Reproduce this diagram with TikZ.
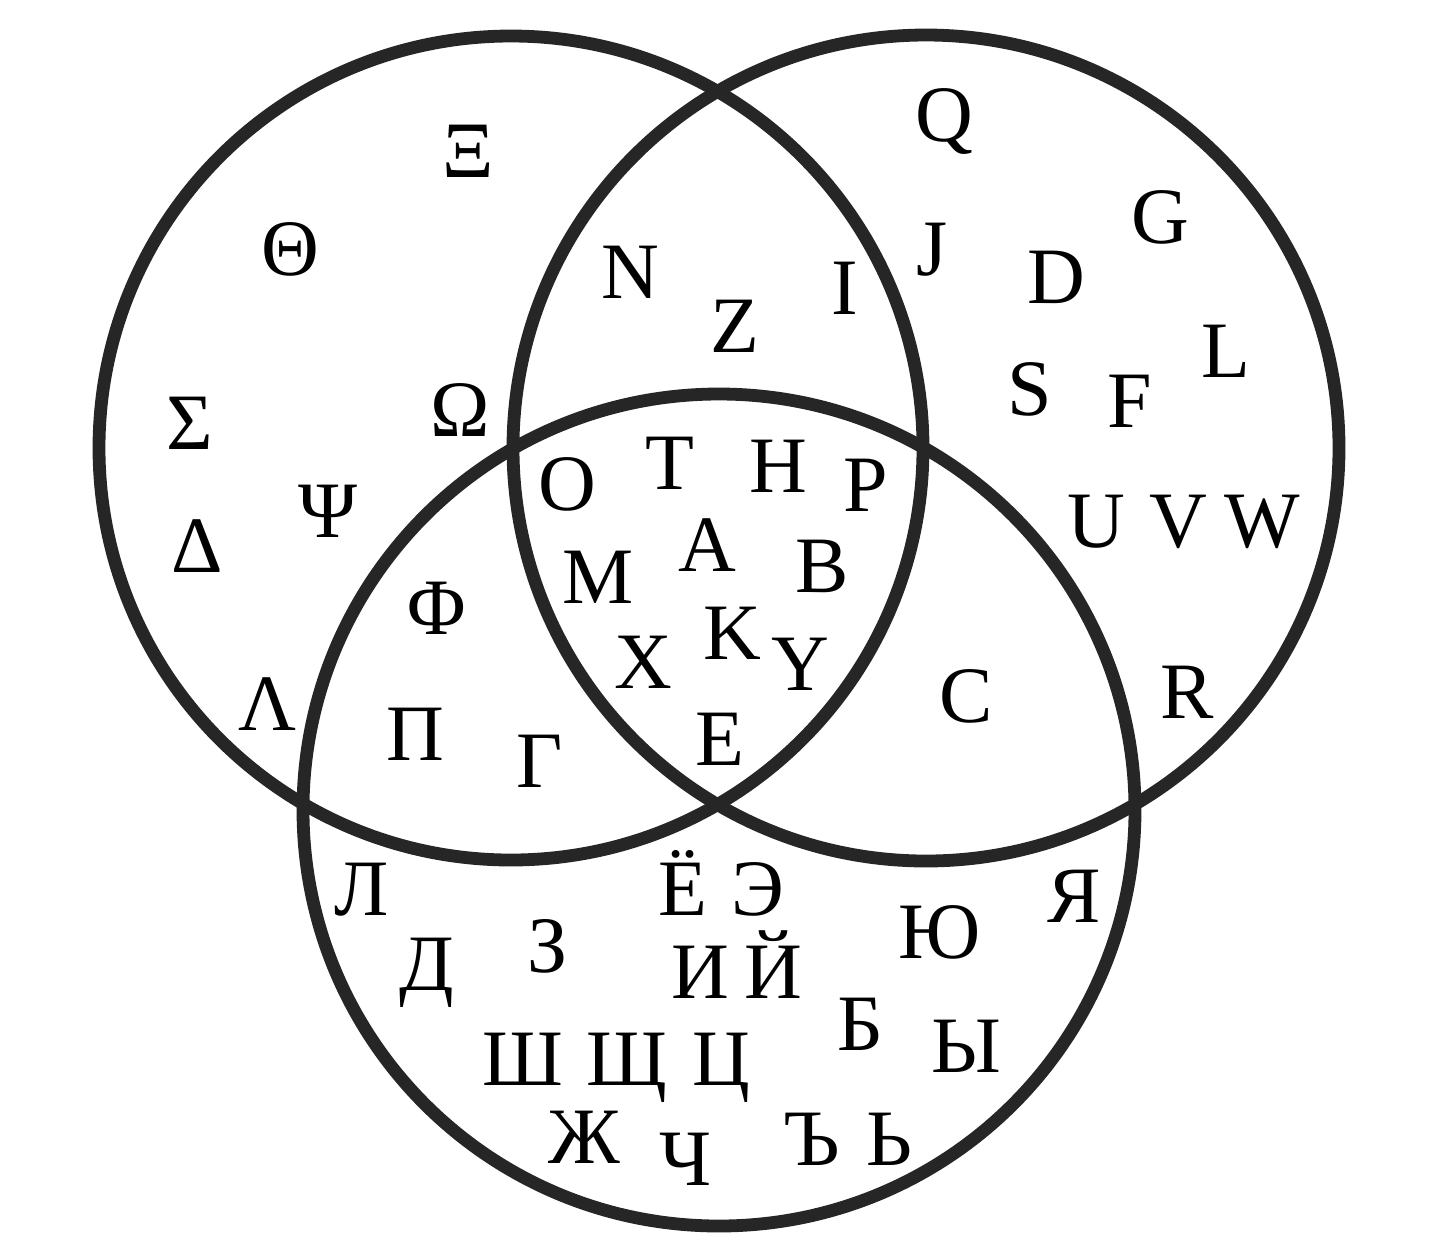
\documentclass[tikz,border=0pt]{standalone}
\usepackage{fontspec}
\setmainfont{Liberation Serif}
\definecolor{ring}{HTML}{262626}
\begin{document}
\begin{tikzpicture}[x=0.5pt,y=-0.5pt,
  ringline/.style={draw=ring,line width=6.4pt},
  let/.style={anchor=base,inner sep=0pt,font=\fontsize{40}{40}\selectfont}]
\useasboundingbox[fill=white] (0,0) rectangle (1440,1255);
\draw[ringline] (511,448) circle[radius=206pt];
\draw[ringline] (926,448) circle[radius=206.5pt];
\draw[ringline] (719,810) circle[radius=208pt];
% left only
\node[let] (Xi) at (468,177) {Ξ};
\node[let] (Theta) at (290,275) {Θ};
\node[let] (Sigma) at (190,449) {Σ};
\node[let] (Omega) at (460,436) {Ω};
\node[let] (Psi) at (328,537) {Ψ};
\node[let] (Delta) at (197,572) {Δ};
\node[let] (Lambda) at (268,730) {Λ};
% left and bottom
\node[let] (Phi) at (437,634) {Φ};
\node[let] (Pi) at (415,760) {Π};
\node[let] (Gamma) at (540,787) {Γ};
% left and right
\node[let] (N) at (630,298) {N};
\node[let] (Z) at (735,352) {Z};
\node[let] (I) at (845,314) {I};
% centre
\node[let] (O) at (567,510) {O};
\node[let] (T) at (670,489) {T};
\node[let] (H) at (778,492) {H};
\node[let] (P) at (866,511) {P};
\node[let] (A) at (707,571) {A};
\node[let] (M) at (598,603) {M};
\node[let] (B) at (822,592) {B};
\node[let] (K) at (732,659) {K};
\node[let] (X) at (643,688) {X};
\node[let] (Y) at (800,690) {Y};
\node[let] (E) at (720,765) {E};
% right only
\node[let] (Q) at (944,141) {Q};
\node[let] (G) at (1160,243) {G};
\node[let] (J) at (932,275) {J};
\node[let] (D) at (1056,303) {D};
\node[let] (L) at (1226,377) {L};
\node[let] (S) at (1030,415) {S};
\node[let] (F) at (1130,427) {F};
\node[let] (U) at (1096,547) {U};
\node[let] (V) at (1178,547) {V};
\node[let] (W) at (1262,547) {W};
\node[let] (R) at (1187,718) {R};
% right and bottom
\node[let] (C) at (966,722) {C};
% bottom only
\node[let] (cL) at (362,915) {Л};
\node[let] (cYo) at (683,915) {Ё};
\node[let] (cEh) at (758,915) {Э};
\node[let] (cYa) at (1074,922) {Я};
\node[let] (cD) at (427,990) {Д};
\node[let] (cZ) at (548,972) {З};
\node[let] (cYu) at (940,958) {Ю};
\node[let] (cI) at (700,998) {И};
\node[let] (cJ) at (773,998) {Й};
\node[let] (cB) at (860,1050) {Б};
\node[let] (cY) at (966,1072) {Ы};
\node[let] (cSh) at (523,1085) {Ш};
\node[let] (cShch) at (627,1085) {Щ};
\node[let] (cTs) at (721,1085) {Ц};
\node[let] (cZh) at (584,1163) {Ж};
\node[let] (cCh) at (685,1185) {Ч};
\node[let] (cHard) at (812,1165) {Ъ};
\node[let] (cSoft) at (889,1165) {Ь};
\end{tikzpicture}
\end{document}
